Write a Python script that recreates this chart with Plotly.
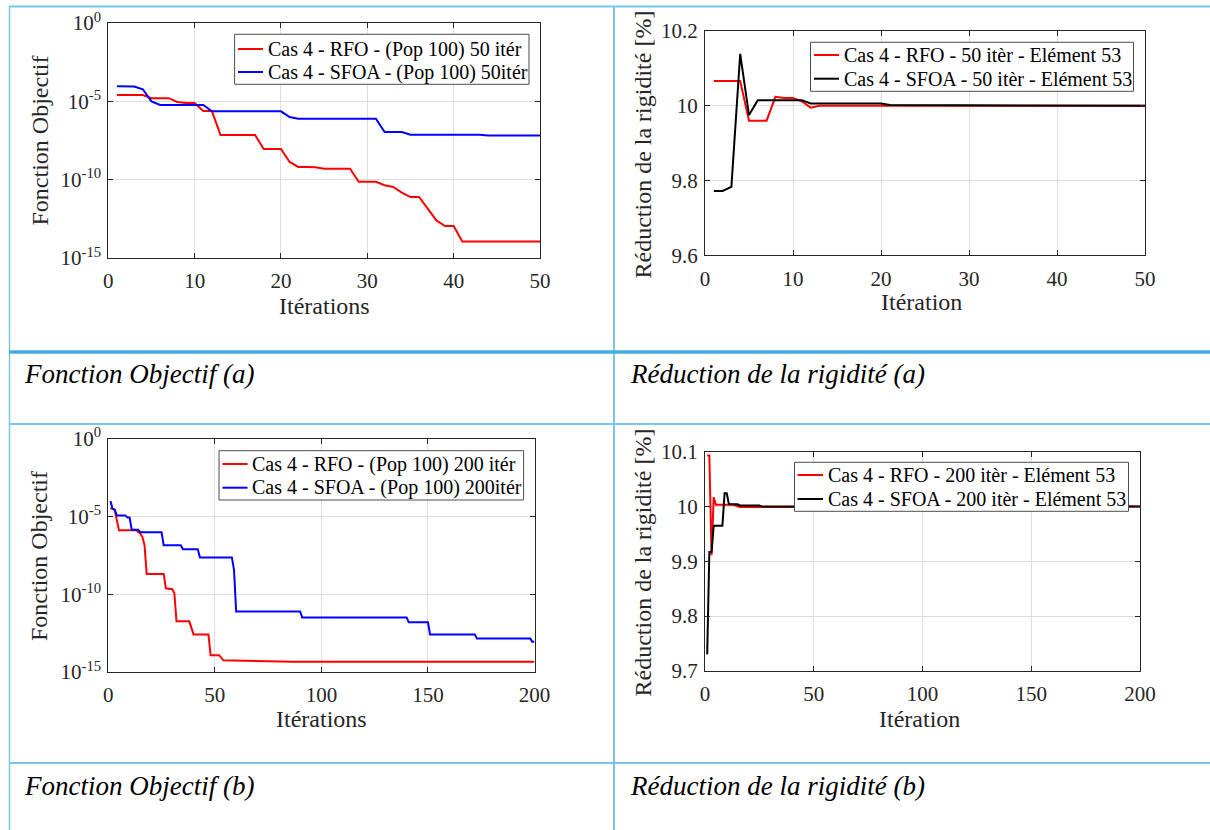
import plotly.graph_objects as go

W, H = 1210, 830

# ---------------- data ----------------
# (a) Fonction objectif, 50 iterations
iter_a = list(range(1, 51))
rfo_obj_a = ([2.5e-5] * 4 + [1.6e-5] * 3 + [9.1e-6] + [7.8e-6] * 2 + [2.4e-6] * 2 +
             [7.1e-8] * 5 + [9.1e-9] * 3 + [1.35e-9] + [6.5e-10] * 2 + [6.2e-10] +
             [5.0e-10] * 4 + [7.4e-11] * 3 + [4.4e-11] + [3.4e-11] + [1.5e-11] +
             [7.8e-12] * 2 + [1.4e-12] + [2.5e-13] + [1.1e-13] * 2 + [1.15e-14] * 10)
sfoa_obj_a = ([9.1e-5] * 2 + [8.7e-5] + [5.9e-5] + [1.0e-5] + [5.9e-6] * 6 +
              [2.3e-6] * 9 + [1.0e-6] + [7.8e-7] * 10 + [1.1e-7] * 3 +
              [7.4e-8] * 9 + [6.5e-8] * 7)

# (a) Réduction de la rigidité, 50 iterations
rfo_red_a = ([10.066] * 4 + [9.960] * 3 + [10.024] + [10.021] * 2 + [10.012] +
             [9.995] + [10.0] * 38)
sfoa_red_a = ([9.772] * 2 + [9.783] + [10.139] + [9.975] + [10.015] * 6 +
              [10.006] * 9 + [10.002] * 11 + [10.0] * 19)

# (b) Fonction objectif, 200 iterations (corner points of the curves)
rfo_obj_b_it = [1, 3, 5, 13, 15, 16, 17, 18, 26, 27, 30, 31, 32, 38, 40, 47, 48, 52, 54, 85, 87, 200]
rfo_obj_b = [3.5e-5, 2.5e-5, 1.3e-6, 1.3e-6, 7.8e-7, 4.8e-7, 1.4e-7, 2.0e-9, 2.0e-9,
             2.4e-10, 2.1e-10, 1.15e-10, 1.8e-12, 1.8e-12, 2.6e-13, 2.6e-13, 1.2e-14,
             1.2e-14, 5.6e-15, 5.0e-15, 4.6e-15, 4.6e-15]
sfoa_obj_b_it = [1, 2, 3, 4, 8, 9, 10, 11, 14, 15, 25, 26, 34, 35, 42, 43, 58, 59, 60,
                 90, 91, 140, 141, 150, 151, 172, 173, 198, 199, 200]
sfoa_obj_b = [9.5e-5, 3.1e-5, 2.75e-5, 1.15e-5, 1.15e-5, 8.3e-6, 8.3e-6, 1.4e-6, 1.4e-6,
              9.5e-7, 9.5e-7, 1.4e-7, 1.4e-7, 7.8e-8, 7.8e-8, 2.3e-8, 2.3e-8, 3.5e-9,
              7.8e-12, 7.8e-12, 3.2e-12, 3.2e-12, 1.55e-12, 1.55e-12, 2.6e-13, 2.6e-13,
              1.4e-13, 1.4e-13, 8.7e-14, 8.7e-14]

# (b) Réduction de la rigidité, 200 iterations (corner points)
rfo_red_b_it = [1, 2, 3, 4, 5, 13, 16, 25, 26, 200]
rfo_red_b = [10.093, 10.093, 9.911, 10.017, 10.003, 10.003, 9.999, 9.999, 10.0, 10.0]
sfoa_red_b_it = [1, 2, 3, 4, 8, 9, 10, 11, 15, 16, 25, 26, 200]
sfoa_red_b = [9.730, 9.917, 9.917, 9.965, 9.965, 10.024, 10.024, 10.004, 10.004,
              10.002, 10.002, 10.0, 10.0]

log_tickvals = [1e-15, 1e-10, 1e-5, 1]
log_ticktext = ["10<sup>-15</sup>", "10<sup>-10</sup>", "10<sup>-5</sup>", "10<sup>0</sup>"]

names = {
    "a_obj": ["Cas 4 - RFO - (Pop 100) 50 itér", "Cas 4 - SFOA - (Pop 100) 50itér"],
    "a_red": ["Cas 4 - RFO - 50 itèr - Elément 53", "Cas 4 - SFOA - 50 itèr - Elément 53"],
    "b_obj": ["Cas 4 - RFO - (Pop 100) 200 itér", "Cas 4 - SFOA - (Pop 100) 200itér"],
    "b_red": ["Cas 4 - RFO - 200 itèr - Elément 53", "Cas 4 - SFOA - 200 itèr - Elément 53"],
}
captions = ["Fonction Objectif (a)", "Réduction de la rigidité (a)",
            "Fonction Objectif (b)", "Réduction de la rigidité (b)"]

# ---------------- helpers ----------------
def fx(p):
    return p / W

def fy(p):
    return 1 - p / H

FONT = "Liberation Serif, Times New Roman, serif"
AX = "#262626"
GRID = "#dedede"

fig = go.Figure()

def add(x, y, name, color, xa, ya):
    fig.add_trace(go.Scatter(x=x, y=y, name=name, mode="lines",
                             line=dict(color=color, width=2),
                             xaxis=xa, yaxis=ya, showlegend=False))

add(iter_a, rfo_obj_a, names["a_obj"][0], "#ff0000", "x", "y")
add(iter_a, sfoa_obj_a, names["a_obj"][1], "#0000ff", "x", "y")
add(iter_a, rfo_red_a, names["a_red"][0], "#ff0000", "x2", "y2")
add(iter_a, sfoa_red_a, names["a_red"][1], "#000000", "x2", "y2")
add(rfo_obj_b_it, rfo_obj_b, names["b_obj"][0], "#ff0000", "x3", "y3")
add(sfoa_obj_b_it, sfoa_obj_b, names["b_obj"][1], "#0000ff", "x3", "y3")
add(rfo_red_b_it, rfo_red_b, names["b_red"][0], "#ff0000", "x4", "y4")
add(sfoa_red_b_it, sfoa_red_b, names["b_red"][1], "#000000", "x4", "y4")

common = dict(showline=True, linecolor=AX, linewidth=1, mirror="ticks",
              ticks="inside", ticklen=5, tickcolor=AX, showgrid=True,
              gridcolor=GRID, gridwidth=1, zeroline=False, automargin=False,
              tickfont=dict(family=FONT, size=21, color=AX))

# plot boxes in pixels: (left, right, top, bottom)
boxes = [(108.3, 540, 23, 258), (705, 1145, 31, 255.3),
         (108.3, 534.5, 438.5, 672), (705, 1140, 451.7, 670.8)]

layout = dict(width=W, height=H, autosize=False,
              margin=dict(l=0, r=0, t=0, b=0, pad=0, autoexpand=False),
              paper_bgcolor="white", plot_bgcolor="white", showlegend=False)

xranges = [[0, 50], [0, 50], [0, 200], [0, 200]]
xdticks = [10, 10, 50, 50]
for i, (l, r, t, b) in enumerate(boxes):
    s = "" if i == 0 else str(i + 1)
    layout["xaxis" + s] = dict(domain=[fx(l), fx(r)], anchor="y" + s,
                               range=xranges[i], dtick=xdticks[i], tick0=0,
                               ticklabelstandoff=4, **common)
    ya = dict(domain=[fy(b), fy(t)], anchor="x" + s, ticklabelstandoff=2, **common)
    if i in (0, 2):
        ya.update(type="log", range=[-15, 0], tickmode="array",
                  tickvals=log_tickvals, ticktext=log_ticktext)
    elif i == 1:
        ya.update(range=[9.6, 10.2], tickmode="array", tickvals=[9.6, 9.8, 10, 10.2],
                  ticktext=["9.6", "9.8", "10", "10.2"])
    else:
        ya.update(range=[9.7, 10.1], tickmode="array", tickvals=[9.7, 9.8, 9.9, 10, 10.1],
                  ticktext=["9.7", "9.8", "9.9", "10", "10.1"])
    layout["yaxis" + s] = ya

fig.update_layout(**layout)

ann = []
shapes = []

def span(txt, size):
    return "<span style='font-size:%dpx'>%s</span>" % (size, txt)

# legends: box (l, r, t, b), sample x0/x1, text x, row y's
legends = [
    ((234.6, 529, 34.3, 84.3), (238, 263), 266, (49, 72), names["a_obj"], ["#ff0000", "#0000ff"]),
    ((810.5, 1133.5, 42.3, 91.3), (814, 839), 841.5, (55, 78.7), names["a_red"], ["#ff0000", "#000000"]),
    ((219, 523.6, 450.7, 500), (222.5, 247.5), 250, (464, 487.7), names["b_obj"], ["#ff0000", "#0000ff"]),
    ((794.5, 1128.5, 462.3, 511.3), (797.5, 823), 825.5, (475, 499), names["b_red"], ["#ff0000", "#000000"]),
]
for (l, r, t, b), (s0, s1), tx, rows, labels, colors in legends:
    shapes.append(dict(type="rect", xref="paper", yref="paper",
                       x0=fx(l), x1=fx(r), y0=fy(b), y1=fy(t),
                       fillcolor="white", line=dict(color="#4d4d4d", width=1),
                       layer="above"))
    for ry, lab, col in zip(rows, labels, colors):
        shapes.append(dict(type="line", xref="paper", yref="paper",
                           x0=fx(s0), x1=fx(s1), y0=fy(ry), y1=fy(ry),
                           line=dict(color=col, width=2), layer="above"))
        ann.append(dict(text=span(lab, 20), x=fx(tx), y=fy(ry), xref="paper", yref="paper",
                        xanchor="left", yanchor="middle", showarrow=False,
                        font=dict(family=FONT, size=20, color="black")))

# axis titles
xt = [("Itérations", 324, 306), ("Itération", 921.5, 302),
      ("Itérations", 321.4, 719), ("Itération", 919, 719)]
for txt, x, y in xt:
    ann.append(dict(text=span(txt, 24), x=fx(x), y=fy(y), xref="paper", yref="paper",
                    xanchor="center", yanchor="middle", showarrow=False,
                    font=dict(family=FONT, size=24, color=AX)))
yt = [("Fonction Objectif", 39, 140.5), ("Réduction de la rigidité [%]", 642.5, 144),
      ("Fonction Objectif", 39, 556), ("Réduction de la rigidité [%]", 642.5, 562)]
for txt, x, y in yt:
    ann.append(dict(text=span(txt, 24), x=fx(x), y=fy(y), xref="paper", yref="paper",
                    xanchor="center", yanchor="middle", showarrow=False, textangle=-90,
                    font=dict(family=FONT, size=24, color=AX)))
cap_pos = [(22, 374), (628, 374), (22, 786), (628, 786)]
for txt, (x, y) in zip(captions, cap_pos):
    ann.append(dict(text="<i>" + txt + "</i>", x=fx(x), y=fy(y), xref="paper", yref="paper",
                    xanchor="left", yanchor="middle", showarrow=False,
                    font=dict(family=FONT, size=27, color="black")))

# table lines
LIGHT = "#7cc5ea"
DARK = "#44ade0"
lines = [
    (9, 6.5, W, 6.5, LIGHT, 2),
    (9.5, 6, 9.5, H, LIGHT, 1.5),
    (614, 6, 614, H, LIGHT, 2),
    (9, 352, W, 352, DARK, 3.5),
    (9, 424, W, 424, LIGHT, 2),
    (9, 763, W, 763, LIGHT, 2),
]
for x0, y0, x1, y1, c, w in lines:
    shapes.append(dict(type="line", xref="paper", yref="paper",
                       x0=fx(x0), x1=fx(x1), y0=fy(y0), y1=fy(y1),
                       line=dict(color=c, width=w), layer="above"))

fig.update_layout(annotations=ann, shapes=shapes)

fig.write_html("out.html", config={"responsive": False},
               post_script="document.body.style.margin='0';document.body.style.overflow='hidden';")
